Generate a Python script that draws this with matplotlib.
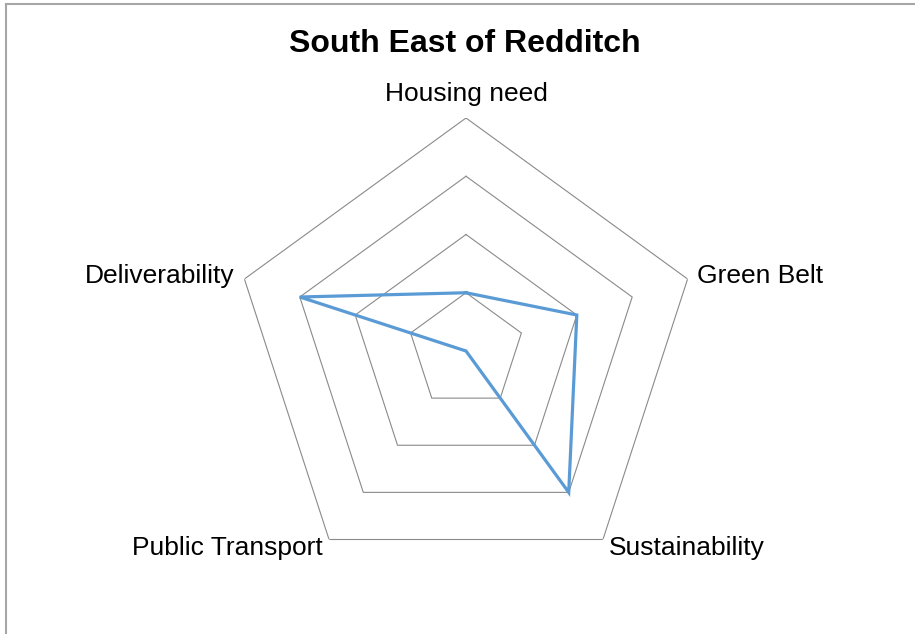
import numpy as np
import matplotlib
matplotlib.use("Agg")
import matplotlib.pyplot as plt
from matplotlib.lines import Line2D

categories = ["Housing need", "Green Belt", "Sustainability", "Public Transport", "Deliverability"]
values = [1, 2, 3, 0, 3]
ring_levels = [1, 2, 3, 4]
title = "South East of Redditch"

plt.rcParams['font.family'] = ['Liberation Sans', 'DejaVu Sans']

W, H = 915, 634
fig = plt.figure(figsize=(W / 100, H / 100), dpi=100)
fig.patch.set_facecolor("white")

cx, cy, R = 466, 351, 233
ax = fig.add_axes([(cx - R) / W, (H - cy - R) / H, 2 * R / W, 2 * R / H], projection="polar")
ax.set_theta_offset(np.pi / 2)
ax.set_theta_direction(-1)
ax.set_ylim(0, max(ring_levels))
ax.axis("off")

n = len(categories)
angles = np.linspace(0, 2 * np.pi, n, endpoint=False)
closed = np.concatenate([angles, angles[:1]])

for lvl in ring_levels:
    ax.plot(closed, [lvl] * (n + 1), color="#8a8a8a", lw=0.8, zorder=1)

vals = np.array(values + values[:1], dtype=float)
ax.plot(closed, vals, color="#5B9BD5", lw=2.3, zorder=3, solid_joinstyle="miter")

offsets = {
    "Housing need": ((0, 24), "center", "center"),
    "Green Belt": ((9, 3), "left", "center"),
    "Sustainability": ((6, -8), "left", "center"),
    "Public Transport": ((-6, -8), "right", "center"),
    "Deliverability": ((-10, 3), "right", "center"),
}
for ang, cat in zip(angles, categories):
    off, ha, va = offsets[cat]
    ax.annotate(cat, xy=(ang, max(ring_levels)), xytext=off, textcoords="offset pixels",
                ha=ha, va=va, fontsize=19, color="black", annotation_clip=False)

fig.text(465 / W, 1 - 44 / H, title, ha="center", va="center", fontsize=23, fontweight="bold")

# chart frame (top and left edges visible)
fig.add_artist(Line2D([6 / W, 1.01], [1 - 4 / H, 1 - 4 / H], transform=fig.transFigure, color="#a6a6a6", lw=1.5))
fig.add_artist(Line2D([6 / W, 6 / W], [-0.01, 1 - 4 / H], transform=fig.transFigure, color="#a6a6a6", lw=1.5))

fig.savefig("out.png", dpi=100, facecolor="white")
